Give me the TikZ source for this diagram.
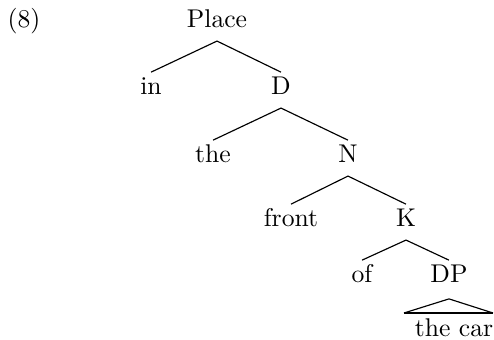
\documentclass[tikz,border=0pt]{standalone}
\begin{document}
\begin{tikzpicture}[x=0.39pt,y=-0.39pt,
  lbl/.style={anchor=base,inner sep=0pt,font=\fontsize{10}{12}\selectfont},
  branch/.style={line width=0.45pt},
  roof/.style={line width=1.1pt}]
\useasboundingbox (0,0) rectangle (494,340);
% example number
\node[lbl] (num) at (24,28) {(8)};
% tree nodes (positioned by baseline)
\node[lbl] (place) at (217,28) {Place};
\node[lbl] (in) at (151,95) {in};
\node[lbl] (d) at (281,95) {D};
\node[lbl] (the) at (213,163) {the};
\node[lbl] (n) at (348,163) {N};
\node[lbl] (front) at (291,227) {front};
\node[lbl] (k) at (406,227) {K};
\node[lbl] (of) at (362,283) {of};
\node[lbl] (dp) at (449,283) {DP};
\node[lbl] (thecar) at (454,337) {the car};
% branches: from just below the mother to just above each daughter
\foreach \m/\a/\b in {place/in/d, d/the/n, n/front/k, k/of/dp}{
  \draw[branch] ([yshift=8.9pt]\a.base) -- ([yshift=-5.1pt]\m.base)
    -- ([yshift=8.9pt]\b.base);
}
% roof over the unanalysed phrase
\coordinate (apex) at ([yshift=-6.2pt]dp.base);
\coordinate (rl) at (404,313);
\coordinate (rr) at (493,313);
\draw[branch] (rl) -- (apex) -- (rr);
\draw[roof] (rl) -- (rr);
\end{tikzpicture}
\end{document}
